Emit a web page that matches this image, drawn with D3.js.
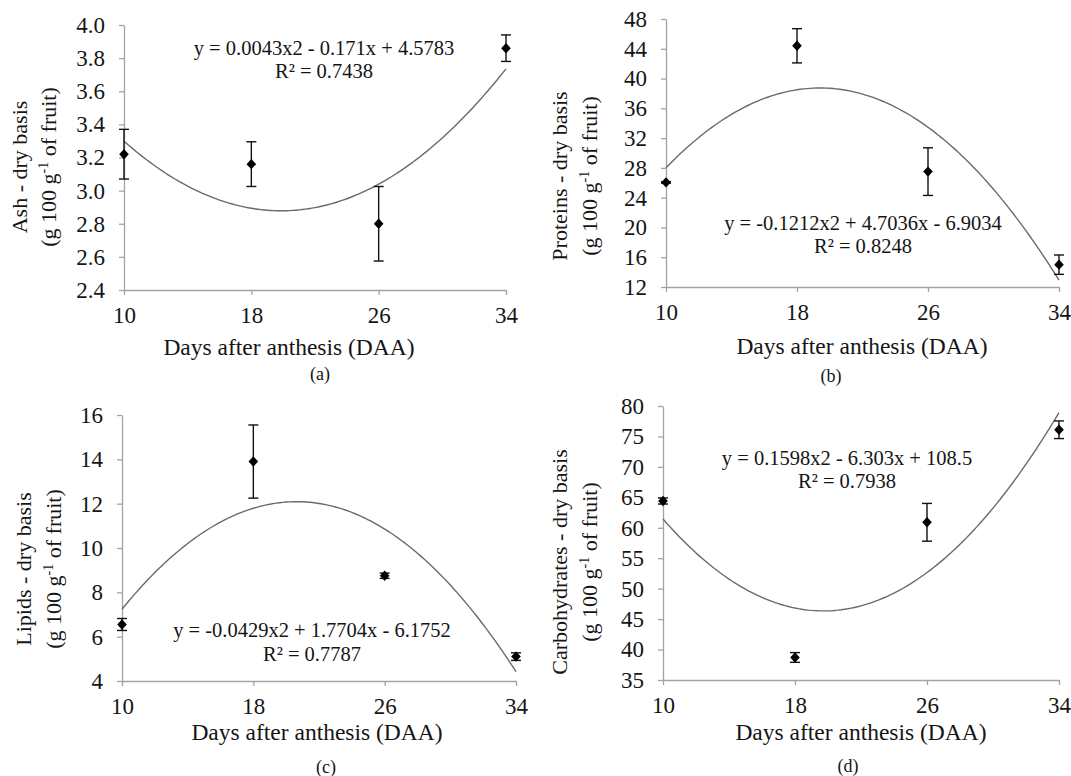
<!DOCTYPE html>
<html>
<head>
<meta charset="utf-8">
<script src="https://cdn.jsdelivr.net/npm/d3@7"></script>
<style>
  html, body { margin: 0; padding: 0; background: #ffffff; }
  svg { display: block; }
  svg text { font-family: "Liberation Serif", "Times New Roman", Times, "DejaVu Serif", serif; fill: #151515; }
</style>
</head>
<body>
<svg id="chart" width="1071" height="776"></svg>
<script>
// ---------- data ----------
const days = [10, 18, 26, 34];
const xTicks = [10, 18, 26, 34];

const ashMean = [3.22, 3.16, 2.80, 3.86];
const ashErr  = [0.15, 0.135, 0.225, 0.08];
const ashTicks = [2.4, 2.6, 2.8, 3.0, 3.2, 3.4, 3.6, 3.8, 4.0];
const ashFit = [0.0043, -0.171, 4.5783];          // a x² + b x + c
const ashEq = "y = 0.0043x2 - 0.171x + 4.5783";
const ashR2 = "R² = 0.7438";

const protMean = [26.05, 44.4, 27.5, 15.0];
const protErr  = [0.1, 2.3, 3.2, 1.3];
const protTicks = [12, 16, 20, 24, 28, 32, 36, 40, 44, 48];
const protFit = [-0.1212, 4.7036, -6.9034];
const protEq = "y = -0.1212x2 + 4.7036x - 6.9034";
const protR2 = "R² = 0.8248";

const lipMean = [6.55, 13.9, 8.75, 5.1];
const lipErr  = [0.27, 1.65, 0.12, 0.17];
const lipTicks = [4, 6, 8, 10, 12, 14, 16];
const lipFit = [-0.0429, 1.7704, -6.1752];
const lipEq = "y = -0.0429x2 + 1.7704x - 6.1752";
const lipR2 = "R² = 0.7787";

const carbMean = [64.4, 38.7, 60.9, 76.1];
const carbErr  = [0.5, 0.8, 3.1, 1.45];
const carbTicks = [35, 40, 45, 50, 55, 60, 65, 70, 75, 80];
const carbFit = [0.1598, -6.303, 108.5];
const carbEq = "y = 0.1598x2 - 6.303x + 108.5";
const carbR2 = "R² = 0.7938";

const xTitle = "Days after anthesis (DAA)";

// ---------- layout ----------
const FONT = '"Liberation Serif", "Times New Roman", Times, "DejaVu Serif", serif';
const panels = [
  { mean: ashMean, err: ashErr, ticks: ashTicks, fmt: d3.format(".1f"), fit: ashFit, eq: ashEq, r2: ashR2,
    yName: "Ash - dry basis", tag: "(a)",
    L: {x0:124, x1:506, yTop:25, yBot:290, ytc:167, yb1:27, yb2:56, xtc:289, xtb:355, tagX:320, tagY:380, eqX:324, eqY1:55, eqY2:77.5} },
  { mean: protMean, err: protErr, ticks: protTicks, fmt: d3.format("d"), fit: protFit, eq: protEq, r2: protR2,
    yName: "Proteins - dry basis", tag: "(b)",
    L: {x0:666, x1:1059, yTop:19, yBot:287, ytc:176, yb1:567, yb2:597, xtc:862, xtb:354, tagX:831, tagY:382, eqX:863, eqY1:230, eqY2:252.5} },
  { mean: lipMean, err: lipErr, ticks: lipTicks, fmt: d3.format("d"), fit: lipFit, eq: lipEq, r2: lipR2,
    yName: "Lipids - dry basis", tag: "(c)",
    L: {x0:122, x1:516, yTop:415, yBot:681, ytc:569, yb1:31, yb2:61, xtc:317, xtb:740, tagX:326, tagY:773, eqX:312, eqY1:637, eqY2:660.5} },
  { mean: carbMean, err: carbErr, ticks: carbTicks, fmt: d3.format("d"), fit: carbFit, eq: carbEq, r2: carbR2,
    yName: "Carbohydrates - dry basis", tag: "(d)",
    L: {x0:663, x1:1059, yTop:406, yBot:680, ytc:562, yb1:567, yb2:597, xtc:861, xtb:740, tagX:848, tagY:772, eqX:847, eqY1:465, eqY2:488} }
];

const svg = d3.select("#chart");
const AXIS = "#a3a3a3";

panels.forEach(p => {
  const L = p.L;
  const x = d3.scaleLinear().domain([d3.min(xTicks), d3.max(xTicks)]).range([L.x0, L.x1]);
  const y = d3.scaleLinear().domain([d3.min(p.ticks), d3.max(p.ticks)]).range([L.yBot, L.yTop]);
  const g = svg.append("g").style("font-family", FONT);

  // y axis
  const ya = g.append("g").attr("transform", `translate(${L.x0},0)`)
    .call(d3.axisLeft(y).tickValues(p.ticks).tickFormat(p.fmt).tickSize(5).tickSizeOuter(0).tickPadding(14));
  // x axis
  const xa = g.append("g").attr("transform", `translate(0,${L.yBot})`)
    .call(d3.axisBottom(x).tickValues(xTicks).tickSize(5).tickSizeOuter(0).tickPadding(11.5));
  [ya, xa].forEach(a => {
    a.attr("font-family", FONT).attr("font-size", 23);
    a.select(".domain").attr("stroke", AXIS).attr("stroke-width", 1.3);
    a.selectAll(".tick line").attr("stroke", AXIS).attr("stroke-width", 1.3);
    a.selectAll(".tick text").attr("fill", "#151515")
      .style("font-family", FONT).style("font-size", "23px");
  });

  // trend curve from the printed equation
  const fx = v => p.fit[0] * v * v + p.fit[1] * v + p.fit[2];
  const xs = d3.range(10, 34.001, 0.2);
  g.append("path")
    .attr("d", d3.line().x(v => x(v)).y(v => y(fx(v))).curve(d3.curveLinear)(xs))
    .attr("fill", "none").attr("stroke", "#6a6a6a").attr("stroke-width", 1.4);

  // error bars
  const pts = days.map((d, i) => ({d, m: p.mean[i], e: p.err[i]}));
  const eb = g.append("g").attr("stroke", "#111").attr("stroke-width", 1.4);
  pts.forEach(o => {
    const cx = x(o.d), yt = y(o.m + o.e), yb = y(o.m - o.e);
    eb.append("line").attr("x1", cx).attr("x2", cx).attr("y1", yt).attr("y2", yb);
    eb.append("line").attr("x1", cx - 5).attr("x2", cx + 5).attr("y1", yt).attr("y2", yt);
    eb.append("line").attr("x1", cx - 5).attr("x2", cx + 5).attr("y1", yb).attr("y2", yb);
  });

  // diamond markers
  g.append("g").selectAll("path").data(pts).join("path")
    .attr("d", o => {
      const cx = x(o.d), cy = y(o.m), w = 4.8, h = 5.2;
      return `M${cx},${cy - h}L${cx + w},${cy}L${cx},${cy + h}L${cx - w},${cy}Z`;
    })
    .attr("fill", "#000");

  // equation + R²
  g.append("text").attr("x", L.eqX).attr("y", L.eqY1).attr("text-anchor", "middle")
    .style("font-family", FONT).style("font-size", "20.5px").text(p.eq);
  g.append("text").attr("x", L.eqX).attr("y", L.eqY2).attr("text-anchor", "middle")
    .style("font-family", FONT).style("font-size", "20.5px").text(p.r2);

  // x title
  g.append("text").attr("x", L.xtc).attr("y", L.xtb).attr("text-anchor", "middle")
    .style("font-family", FONT).style("font-size", "23.5px").text(xTitle);

  // y title (two lines, rotated)
  g.append("text").attr("transform", `translate(${L.yb1},${L.ytc}) rotate(-90)`)
    .attr("text-anchor", "middle").style("font-family", FONT).style("font-size", "22px").text(p.yName);
  const t2 = g.append("text").attr("transform", `translate(${L.yb2},${L.ytc}) rotate(-90)`)
    .attr("text-anchor", "middle").style("font-family", FONT).style("font-size", "22px");
  t2.append("tspan").text("(g 100 g");
  t2.append("tspan").attr("dy", "-0.55em").style("font-size", "14px").text("-1");
  t2.append("tspan").attr("dy", "0.35em").text(" of fruit)");

  // panel tag
  g.append("text").attr("x", L.tagX).attr("y", L.tagY).attr("text-anchor", "middle")
    .style("font-family", FONT).style("font-size", "18px").text(p.tag);
});
</script>
</body>
</html>
